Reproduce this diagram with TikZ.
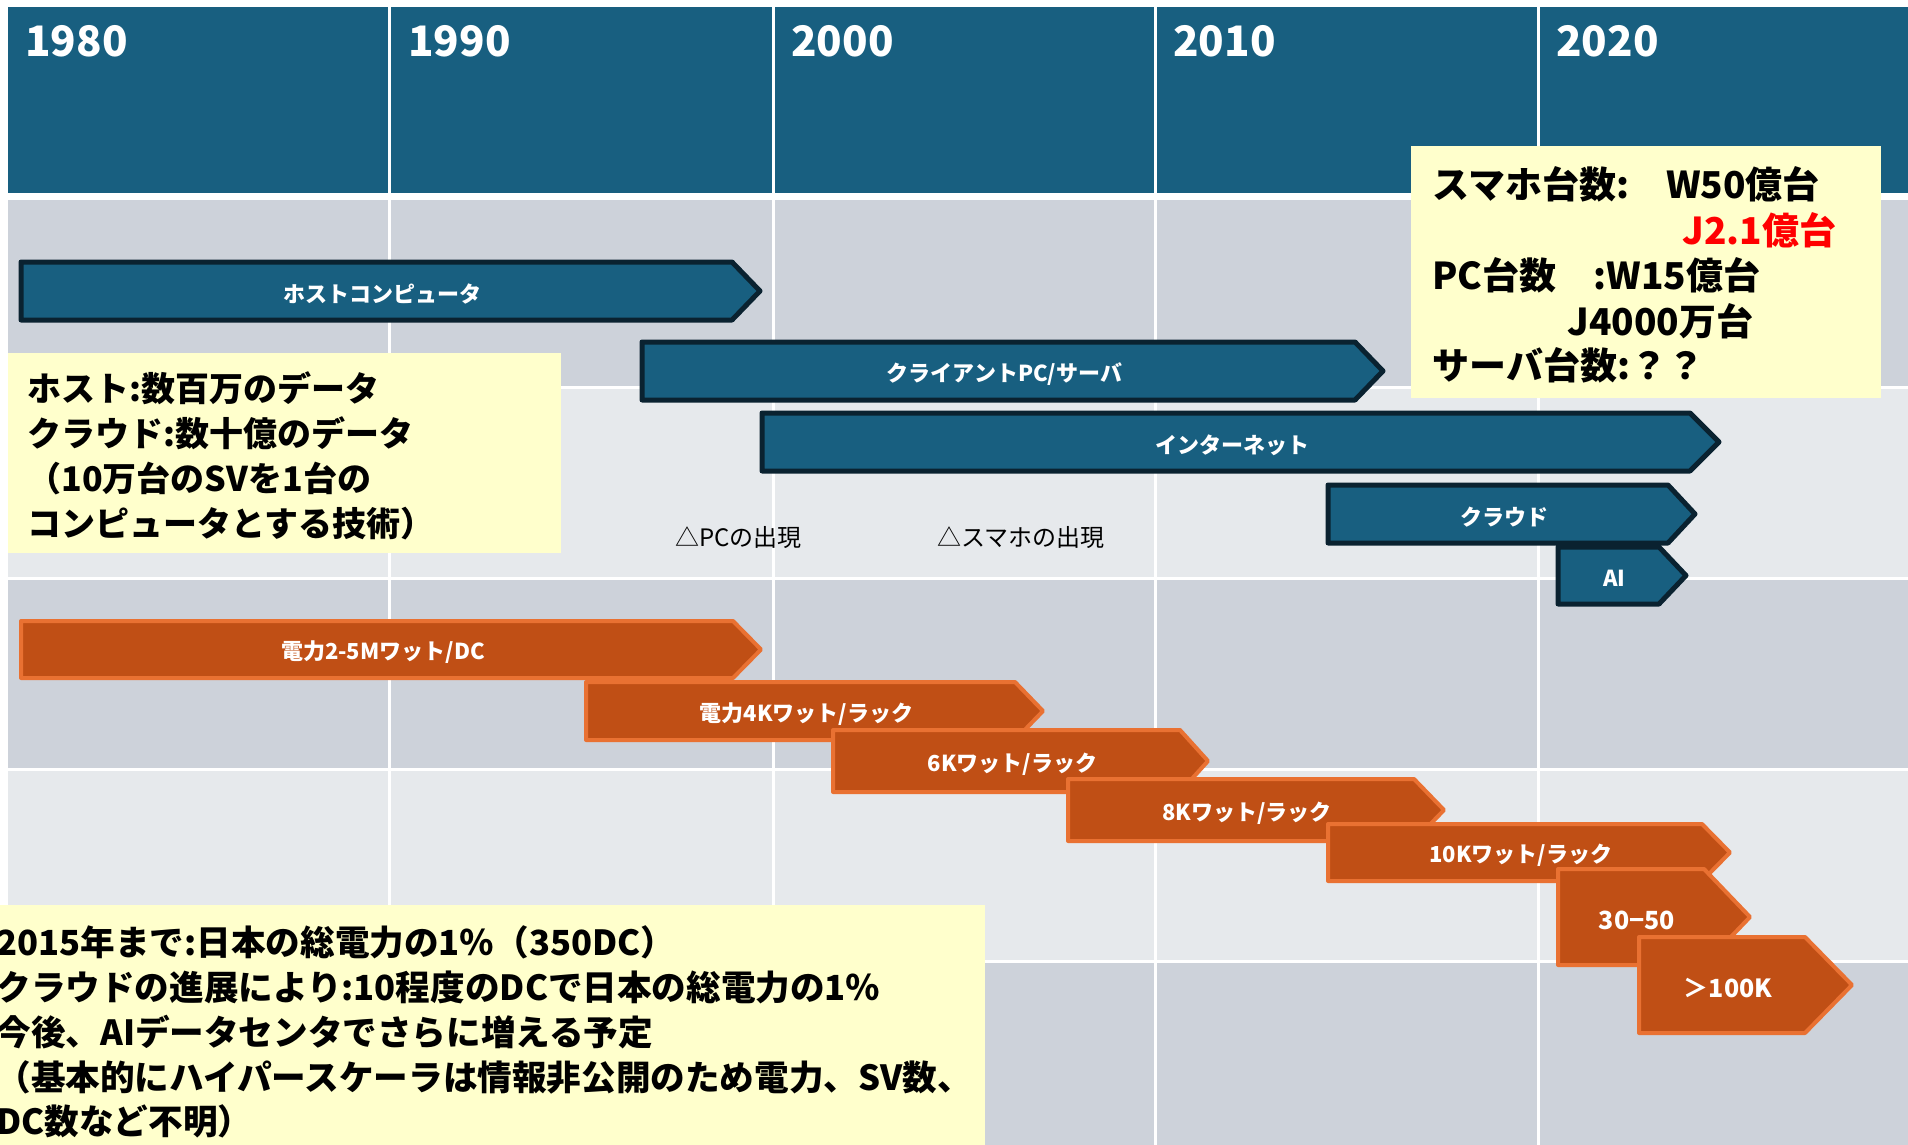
\documentclass[tikz,border=0pt]{standalone}
\usepackage{fontspec}
\setmainfont{Noto Sans CJK JP}
\definecolor{hdr}{HTML}{185F80}
\definecolor{rowD}{HTML}{CDD2DA}
\definecolor{rowL}{HTML}{E6E9EC}
\definecolor{bfill}{HTML}{185F80}
\definecolor{bline}{HTML}{0A2230}
\definecolor{ofill}{HTML}{C04F15}
\definecolor{oline}{HTML}{E97132}
\definecolor{note}{HTML}{FFFFCC}
\definecolor{redtxt}{HTML}{FF0000}
\newcommand{\tlarrow}[9]{%
  \draw[#1] (#4,#5) -- (#6,#5) -- (#7,{(#5+#8)/2}) -- (#6,#8) -- (#4,#8) -- cycle;
  \node[#2] (#3) at ({(#4+#6)/2+6},{(#5+#8)/2+3}) {#9};
}
\begin{document}
\begin{tikzpicture}[x=0.5pt,y=-0.5pt,
  barblue/.style={draw=bline,fill=bfill,line width=2.5pt,line join=round},
  barorange/.style={draw=oline,fill=ofill,line width=2pt,line join=round},
  barlabel/.style={text=white,font=\bfseries\fontsize{11}{13}\selectfont,inner sep=0pt},
  biglabel/.style={text=white,font=\bfseries\fontsize{12.5}{15}\selectfont,inner sep=0pt},
  yearlabel/.style={text=white,font=\bfseries\fontsize{21}{25}\selectfont,inner sep=0pt,anchor=base west},
  gridline/.style={white,line width=1.5pt},
  notebox/.style={fill=note,draw=none},
  lefttxt/.style={font=\bfseries\fontsize{17}{20}\selectfont,inner sep=0pt,anchor=west,text height=0.88em,text depth=0.12em},
  toptxt/.style={font=\bfseries\fontsize{18.5}{22}\selectfont,inner sep=0pt,anchor=west,text height=0.88em,text depth=0.12em},
  bottxt/.style={font=\bfseries\fontsize{17.3}{20}\selectfont,inner sep=0pt,anchor=west,text height=0.88em,text depth=0.12em},
  anntxt/.style={font=\fontsize{12}{14}\selectfont,inner sep=0pt,anchor=west,text height=0.88em,text depth=0.12em}
]
\useasboundingbox (0,0) rectangle (1908,1145);
\clip (0,0) rectangle (1908,1145);
\fill[white] (0,0) rectangle (1908,1145);
% header
\fill[hdr] (8,7) rectangle (1908,193);
% body rows
\fill[rowD] (8,200) rectangle (1908,387);
\fill[rowL] (8,387) rectangle (1908,578);
\fill[rowD] (8,578) rectangle (1908,769);
\fill[rowL] (8,769) rectangle (1908,961);
\fill[rowD] (8,961) rectangle (1908,1145);
% grid lines
\foreach \gx in {389,773,1155,1538} {\draw[gridline] (\gx,7) -- (\gx,1145);}
\foreach \gy in {387,578,769,961} {\draw[gridline] (8,\gy) -- (1908,\gy);}
% years
\node[yearlabel] (y1980) at (25,57) {1980};
\node[yearlabel] (y1990) at (408,57) {1990};
\node[yearlabel] (y2000) at (791,57) {2000};
\node[yearlabel] (y2010) at (1173,57) {2010};
\node[yearlabel] (y2020) at (1556,57) {2020};
% blue bars
\tlarrow{barblue}{barlabel}{host}{21}{262}{732}{760}{320}{ホストコンピュータ}
\tlarrow{barblue}{barlabel}{client}{642}{342}{1355}{1383}{400}{クライアントPC/サーバ}
\tlarrow{barblue}{barlabel}{inet}{762}{413}{1690}{1719}{471}{インターネット}
\tlarrow{barblue}{barlabel}{cloud}{1328}{485}{1668}{1695}{543}{クラウド}
\tlarrow{barblue}{barlabel}{ai}{1558}{547}{1659}{1686}{604}{AI}
% annotations
\node[anntxt] (pcnote) at (675,539) {△PCの出現};
\node[anntxt] (smnote) at (937,539) {△スマホの出現};
% orange bars
\tlarrow{barorange}{barlabel}{p1}{21}{621}{733}{761}{678}{電力2-5Mワット/DC}
\tlarrow{barorange}{barlabel}{p2}{586}{682}{1015}{1043}{740}{電力4Kワット/ラック}
\tlarrow{barorange}{barlabel}{p3}{833}{730}{1180}{1208}{792}{6Kワット/ラック}
\tlarrow{barorange}{barlabel}{p4}{1068}{779}{1414}{1444}{841}{8Kワット/ラック}
\tlarrow{barorange}{barlabel}{p5}{1328}{824}{1702}{1730}{881}{10Kワット/ラック}
\tlarrow{barorange}{biglabel}{p6}{1558}{869}{1704}{1750}{965}{30−50}
\tlarrow{barorange}{biglabel}{p7}{1639}{937}{1805}{1852}{1033}{＞100K}
% left note
\fill[notebox] (8,353) rectangle (561,553);
\node[lefttxt] (l1) at (27,394) {ホスト:数百万のデータ};
\node[lefttxt] (l2) at (27,439) {クラウド:数十億のデータ};
\node[lefttxt] (l3) at (27,484) {（10万台のSVを1台の};
\node[lefttxt] (l4) at (27,529) {コンピュータとする技術）};
% top right note
\fill[notebox] (1411,146) rectangle (1881,398);
\node[toptxt] (t1) at (1432,191) {スマホ台数:　W50億台};
\node[toptxt,text=redtxt] (t2) at (1682,237) {J2.1億台};
\node[toptxt] (t3) at (1432,282) {PC台数　:W15億台};
\node[toptxt] (t4) at (1567,328) {J4000万台};
\node[toptxt] (t5) at (1432,372) {サーバ台数:？？};
% bottom note
\fill[notebox] (0,905) rectangle (985,1145);
\node[bottxt] (b1) at (-4,948) {2015年まで:日本の総電力の1％（350DC）};
\node[bottxt] (b2) at (-4,993) {クラウドの進展により:10程度のDCで日本の総電力の1％};
\node[bottxt] (b3) at (-4,1038) {今後、AIデータセンタでさらに増える予定};
\node[bottxt] (b4) at (-4,1083) {（基本的にハイパースケーラは情報非公開のため電力、SV数、};
\node[bottxt] (b5) at (-4,1127) {DC数など不明）};
\end{tikzpicture}
\end{document}
